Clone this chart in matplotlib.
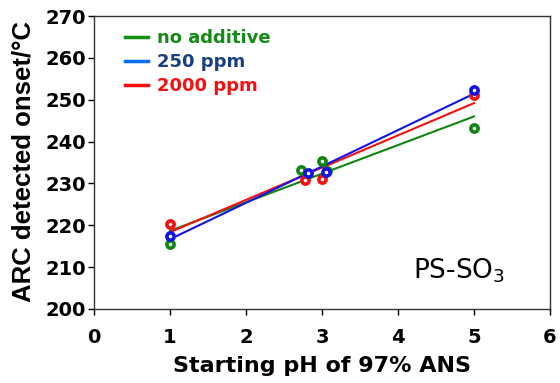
import numpy as np
import matplotlib
matplotlib.use("Agg")
import matplotlib.pyplot as plt
from matplotlib.lines import Line2D

plt.rcParams['font.family'] = ['DejaVu Sans']
plt.rcParams['mathtext.default'] = 'regular'

# data
x_none = [1.0, 2.73, 3.0, 3.07, 5.0]
y_none = [215.5, 233.2, 235.4, 233.0, 243.2]
x_250 = [1.0, 2.82, 3.05, 5.0]
y_250 = [217.5, 232.5, 232.8, 252.3]
x_2000 = [1.0, 2.78, 3.0, 5.0]
y_2000 = [220.4, 230.9, 231.0, 251.1]

series_labels = ["no additive", "250 ppm", "2000 ppm"]
line_colors = ["#119011", "#0a6cf5", "#f51010"]
marker_colors = ["#108510", "#1212e8", "#f51010"]
text_colors = ["#138a13", "#1a3f80", "#f51010"]

xticks = [0, 1, 2, 3, 4, 5, 6]
yticks = [200, 210, 220, 230, 240, 250, 260, 270]

fig = plt.figure(figsize=(5.6, 3.83), dpi=100)
ax = fig.add_axes([94 / 560, 1 - 309 / 383, 456 / 560, 293 / 383])

series = [(x_none, y_none), (x_2000, y_2000), (x_250, y_250)]
cols_order = [0, 2, 1]
for (xs, ys), ci in zip(series, cols_order):
    xs = np.array(xs); ys = np.array(ys)
    m, b = np.polyfit(xs, ys, 1)
    xl = np.array([xs.min(), xs.max()])
    ax.plot(xl, m * xl + b, color=marker_colors[ci], lw=1.5, zorder=2)
for (xs, ys), ci in zip(series, cols_order):
    ax.plot(xs, ys, linestyle='none', marker='o', ms=5.2, mfc='white',
            mec=marker_colors[ci], mew=2.6, zorder=3)

ax.set_xlim(0, 6)
ax.set_ylim(200, 270)
ax.set_xticks(xticks)
ax.set_yticks(yticks)
ax.tick_params(axis='both', labelsize=14, width=1, length=4, direction='out')
ax.tick_params(axis='x', pad=10)
ax.tick_params(axis='y', pad=1.5)
for lab in ax.get_xticklabels() + ax.get_yticklabels():
    lab.set_fontweight('bold')
for sp in ax.spines.values():
    sp.set_color('#333333')
    sp.set_linewidth(1)

ax.set_xlabel("Starting pH of 97% ANS", fontsize=16, fontweight='bold')
ax.xaxis.set_label_coords(0.5, -0.16)
ax.set_ylabel("ARC detected onset/\u00b0C", fontsize=18.5, fontweight='bold',
              family=['Liberation Sans', 'DejaVu Sans'])
ax.yaxis.set_label_coords(-0.128, 0.505)

handles = [Line2D([0], [0], color=line_colors[i], lw=2.5) for i in range(3)]
leg = ax.legend(handles, series_labels, loc='upper left', bbox_to_anchor=(0.068, 0.955),
                frameon=False, handlelength=1.3, handletextpad=0.45, labelspacing=0.33,
                borderpad=0, borderaxespad=0,
                prop={'weight': 'bold', 'size': 13})
for t, c in zip(leg.get_texts(), text_colors):
    t.set_color(c)

ax.text(4.2, 209.2, "PS-SO$_3$", fontsize=19, ha='left', va='center')

fig.savefig("out.png", dpi=100)
